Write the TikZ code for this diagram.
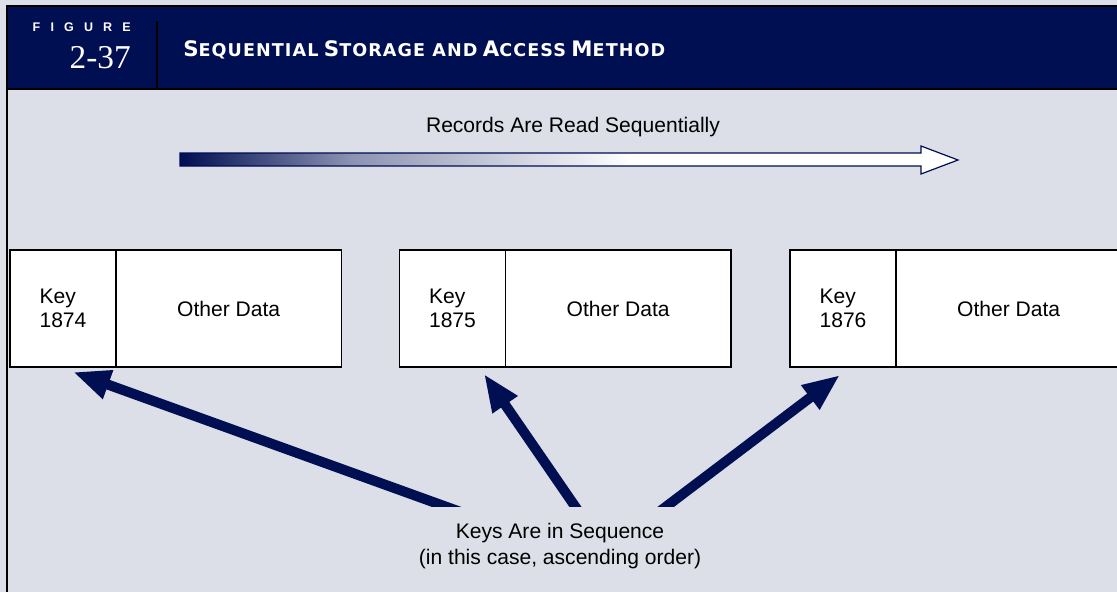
\documentclass[tikz,border=0pt]{standalone}
\usepackage{fontspec}
\setmainfont{Liberation Sans}
\newfontfamily\numfont{Liberation Serif}
\newfontfamily\titlefont[LetterSpace=6]{DejaVu Sans}
\usetikzlibrary{arrows.meta,positioning,calc}
\definecolor{ctNavy}{HTML}{000E52}
\definecolor{ctBg}{HTML}{DCDFE8}
\pgfdeclarehorizontalshading{readfade}{100bp}{color(0bp)=(ctNavy); color(25bp)=(ctNavy); color(36bp)=(ctNavy!45); color(54bp)=(white); color(100bp)=(white)}
\newcommand{\bigsc}[1]{{\fontsize{16pt}{17pt}\selectfont #1}}
\newcommand{\smallsc}[1]{{\fontsize{13.2pt}{14pt}\selectfont #1}}

\begin{document}
\begin{tikzpicture}[x=0.75pt,y=-0.75pt,
  every node/.style={font=\fontsize{15.8pt}{18pt}\selectfont},
  keycell/.style={draw,fill=white,line width=1pt,minimum width=79.5pt,minimum height=87.75pt,
    align=left,inner sep=0pt,outer sep=0pt},
  datacell/.style={keycell,minimum width=169pt,align=center},
  keyarrow/.style={ctNavy,line width=7.5pt,-{Triangle[length=28pt,width=21pt]}}]
  \useasboundingbox (0,0) rectangle (1117,592);
  \clip (0,0) rectangle (1117,592);
  % background, header band and frame
  \fill[ctBg] (0,0) rectangle (1117,592);
  \fill[ctNavy] (7,7) rectangle (1117,89);
  \draw[line width=2.2pt] (7,592) -- (7,6) -- (1117,6);
  \draw[line width=1.5pt] (7,89) -- (1117,89);
  \draw[line width=1.5pt] (157,21) -- (157,89);
  \node[text=white,anchor=east,inner sep=0pt,font=\bfseries\fontsize{9.4pt}{9.4pt}\selectfont] (fig) at (131,27)
    {F\kern7.6pt I\kern7.6pt G\kern7.6pt U\kern7.6pt R\kern7.6pt E};
  \node[text=white,anchor=east,inner sep=0pt,font=\numfont\fontsize{25pt}{25pt}\selectfont] (fignum) at (131,58) {2-37};
  \node[text=white,anchor=west,inner sep=0pt,font=\titlefont\bfseries] (title) at (183,50)
    {\bigsc{S}\smallsc{EQUENTIAL} \bigsc{S}\smallsc{TORAGE AND} \bigsc{A}\smallsc{CCESS} \bigsc{M}\smallsc{ETHOD}};
  % read direction
  \node (readlbl) at (573,127) {Records Are Read Sequentially};
  \path[draw=ctNavy,line width=0.9pt,shading=readfade] (180,153) -- (921,153) -- (921,146) -- (958,160)
    -- (921,174) -- (921,166) -- (180,166) -- cycle;
  % three records
  \node[keycell] (k1) at (63,308.5) {Key\\1874};
  \node[datacell,right=0pt of k1] (d1) {Other Data};
  \node[keycell] (k2) at (452.5,308.5) {Key\\1875};
  \node[datacell,right=0pt of k2] (d2) {Other Data};
  \node[keycell] (k3) at (843,308.5) {Key\\1876};
  \node[datacell,right=0pt of k3] (d3) {Other Data};
  % keys in sequence
  \node[align=center,font=\fontsize{15.8pt}{19.5pt}\selectfont] (seq) at (560,546)
    {Keys Are in Sequence\\(in this case, ascending order)};
  \begin{scope}
    \clip (0,0) rectangle (1117,506);
    \coordinate (t1) at (469,515);
    \coordinate (t2) at (581,515);
    \coordinate (t3) at (655,515);
    \draw[keyarrow] (t1) -- ($(k1.south)+(10,5)$);
    \draw[keyarrow] (t2) -- ($(k2.south)+(31.5,7)$);
    \draw[keyarrow] (t3) -- ($(k3.south)+(-3,8)$);
  \end{scope}
\end{tikzpicture}
\end{document}
